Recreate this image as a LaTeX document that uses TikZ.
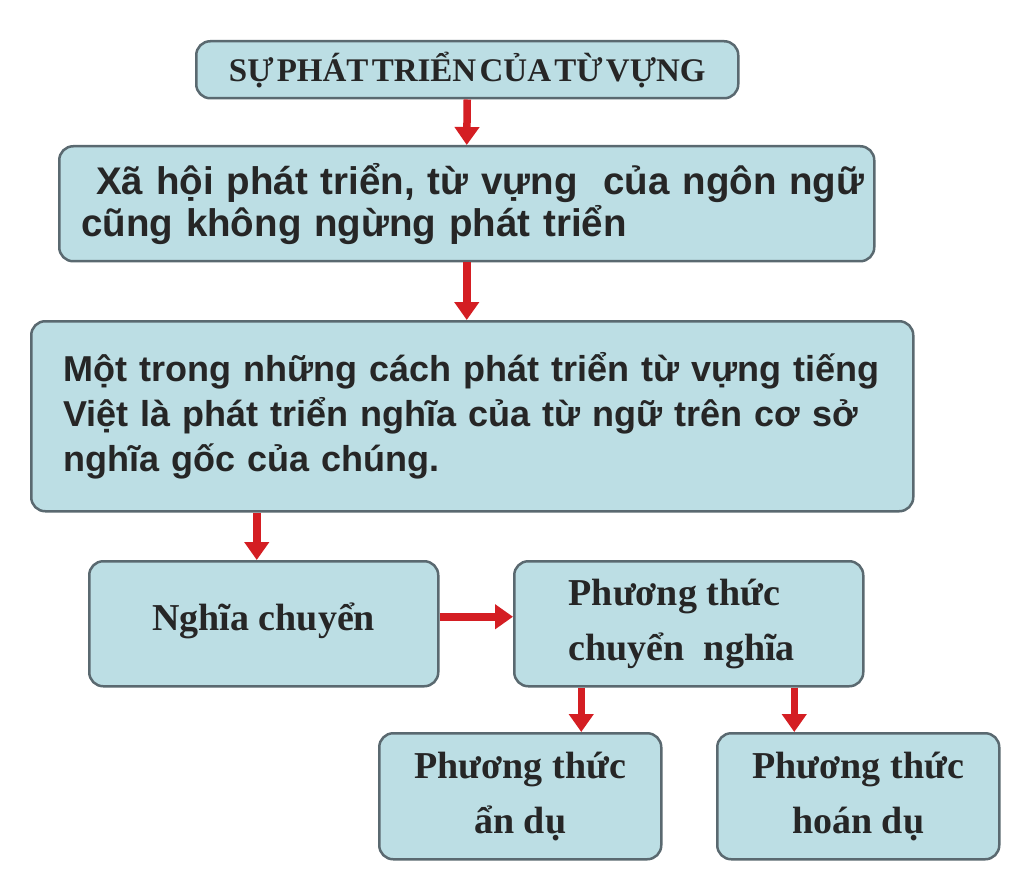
\documentclass[tikz,border=0pt]{standalone}
\usepackage{fontspec}
\setmainfont{Liberation Serif}
\newfontfamily\sansb{Liberation Sans}
\usetikzlibrary{arrows.meta}
\definecolor{boxfill}{RGB}{188,222,228}
\definecolor{boxline}{RGB}{90,105,112}
\definecolor{arrred}{RGB}{212,30,35}
\newcommand{\tightsp}[1]{\spaceskip=#1\relax}
\begin{document}
\begin{tikzpicture}[x=1pt,y=-1pt,
  box/.style={draw=boxline,line width=2.5pt,fill=boxfill,rounded corners=14pt,inner sep=0pt,anchor=north west,text=black!85},
  arr/.style={draw=arrred,line width=7.5pt,-{Triangle[width=24pt,length=18pt]}},
  serifbox/.style={font=\fontsize{38}{55}\selectfont\bfseries,align=center}]
\useasboundingbox (0,0) rectangle (1024,874);
\fill[white] (0,0) rectangle (1024,874);
\node[box,minimum width=542pt,minimum height=57pt,font=\fontsize{33}{36}\selectfont\bfseries\tightsp{0.1em}] (t) at (195,40) {SỰ PHÁT TRIỂN CỦA TỪ VỰNG};
\node[box,minimum width=815pt,minimum height=115pt,text width=771pt,align=left,font=\sansb\bfseries\fontsize{38.5}{42}\selectfont] (b) at (58,145) {\mbox{\hspace*{15pt}Xã hội phát triển, từ vựng\ \ của ngôn ngữ}\\\mbox{cũng không ngừng phát triển}};
\node[box,minimum width=882pt,minimum height=190pt,text width=818pt,align=left,font=\sansb\bfseries\fontsize{36}{45}\selectfont] (c) at (30,320) {Một trong những cách phát triển từ vựng tiếng\\Việt là phát triển nghĩa của từ ngữ trên cơ sở\\nghĩa gốc của chúng.\\[-8pt]};
\node[box,serifbox,minimum width=349pt,minimum height=125pt] (n) at (88,560) {\raisebox{14pt}{Nghĩa chuyển}};
\node[box,serifbox,align=left,minimum width=349pt,minimum height=125pt] (p) at (513,560) {\hspace*{-14pt}Phương thức\\\hspace*{-14pt}chuyển\ \ nghĩa};
\node[box,serifbox,minimum width=282pt,minimum height=126pt] (a) at (378,732) {Phương thức\\ẩn dụ};
\node[box,serifbox,minimum width=282pt,minimum height=126pt] (h) at (716,732) {Phương thức\\hoán dụ};
\draw[arr] (t.south) -- (b.north);
\draw[arr] (b.south) -- (b.south |- c.north);
\draw[arr] ([xshift=-7pt]n.north |- c.south) -- ([xshift=-7pt]n.north);
\draw[arr] ([yshift=7pt]n.east) -- ([yshift=7pt]p.west);
\draw[arr] ([xshift=61pt]a.north |- p.south) -- ([xshift=61pt]a.north);
\draw[arr] ([xshift=-64pt]h.north |- p.south) -- ([xshift=-64pt]h.north);
\end{tikzpicture}
\end{document}
